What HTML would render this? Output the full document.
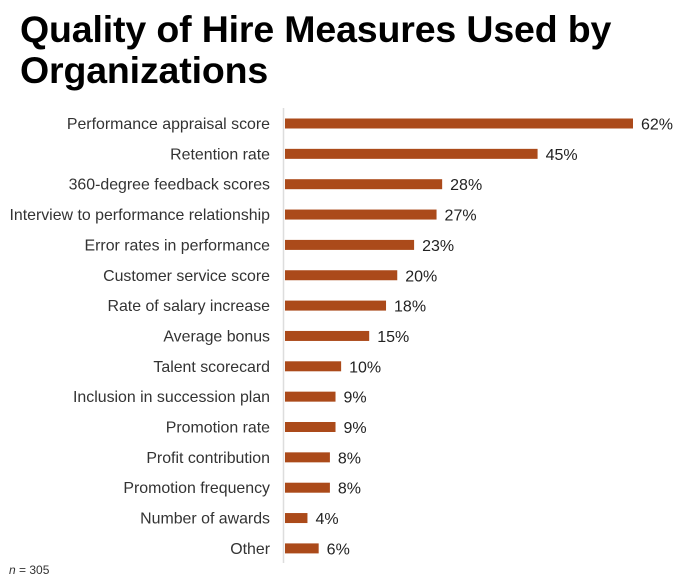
<!DOCTYPE html>
<html><head><meta charset="utf-8"><style>
body{margin:0;background:#fff;width:678px;height:583px;overflow:hidden;font-family:"Liberation Sans",Arial,sans-serif}
h1{position:absolute;left:20px;top:9px;margin:0;font-size:37.5px;line-height:41px;font-weight:bold;color:#000;letter-spacing:-0.15px}
#n{position:absolute;left:9px;top:563px;font-size:12px;color:#333}
</style></head><body>
<h1>Quality of Hire Measures Used by<br>Organizations</h1>
<svg id="c" width="678" height="583" style="position:absolute;left:0;top:0"></svg>
<div id="n"><i>n</i> = 305</div>
<script>
const categories=["Performance appraisal score","Retention rate","360-degree feedback scores","Interview to performance relationship","Error rates in performance","Customer service score ","Rate of salary increase","Average bonus","Talent scorecard","Inclusion in succession plan","Promotion rate","Profit contribution","Promotion frequency","Number of awards","Other"];
const values=[62,45,28,27,23,20,18,15,10,9,9,8,8,4,6];
const ns="http://www.w3.org/2000/svg";
const svg=document.getElementById('c');
const x0=285, scale=(633-285)/62, y0=123.5, step=30.35, bh=10;
const xs=v=>x0+v*scale, ys=i=>y0+i*step;
function mk(t,a){const e=document.createElementNS(ns,t);for(const k in a)e.setAttribute(k,a[k]);svg.appendChild(e);return e;}
const ax=mk('line',{x1:283.5,x2:283.5,y1:108,y2:563,stroke:'#ddd','stroke-width':1.5});


categories.forEach((c,i)=>{
 const y=ys(i);
 const t=mk('text',{x:270,y:y+5.5,'text-anchor':'end','font-size':15.9,fill:'#333','font-family':'Liberation Sans, Arial, sans-serif'});
 t.textContent=c;
 
 
 const r=mk('rect',{x:x0,y:y-bh/2,width:xs(values[i])-x0,height:bh,fill:'#AB4A1A'});
 
 
 const v=mk('text',{x:xs(values[i])+8,y:y+6,'font-size':16,fill:'#222','font-family':'Liberation Sans, Arial, sans-serif'});
 v.textContent=values[i]+'%';
 
 
});
</script>
</body></html>
